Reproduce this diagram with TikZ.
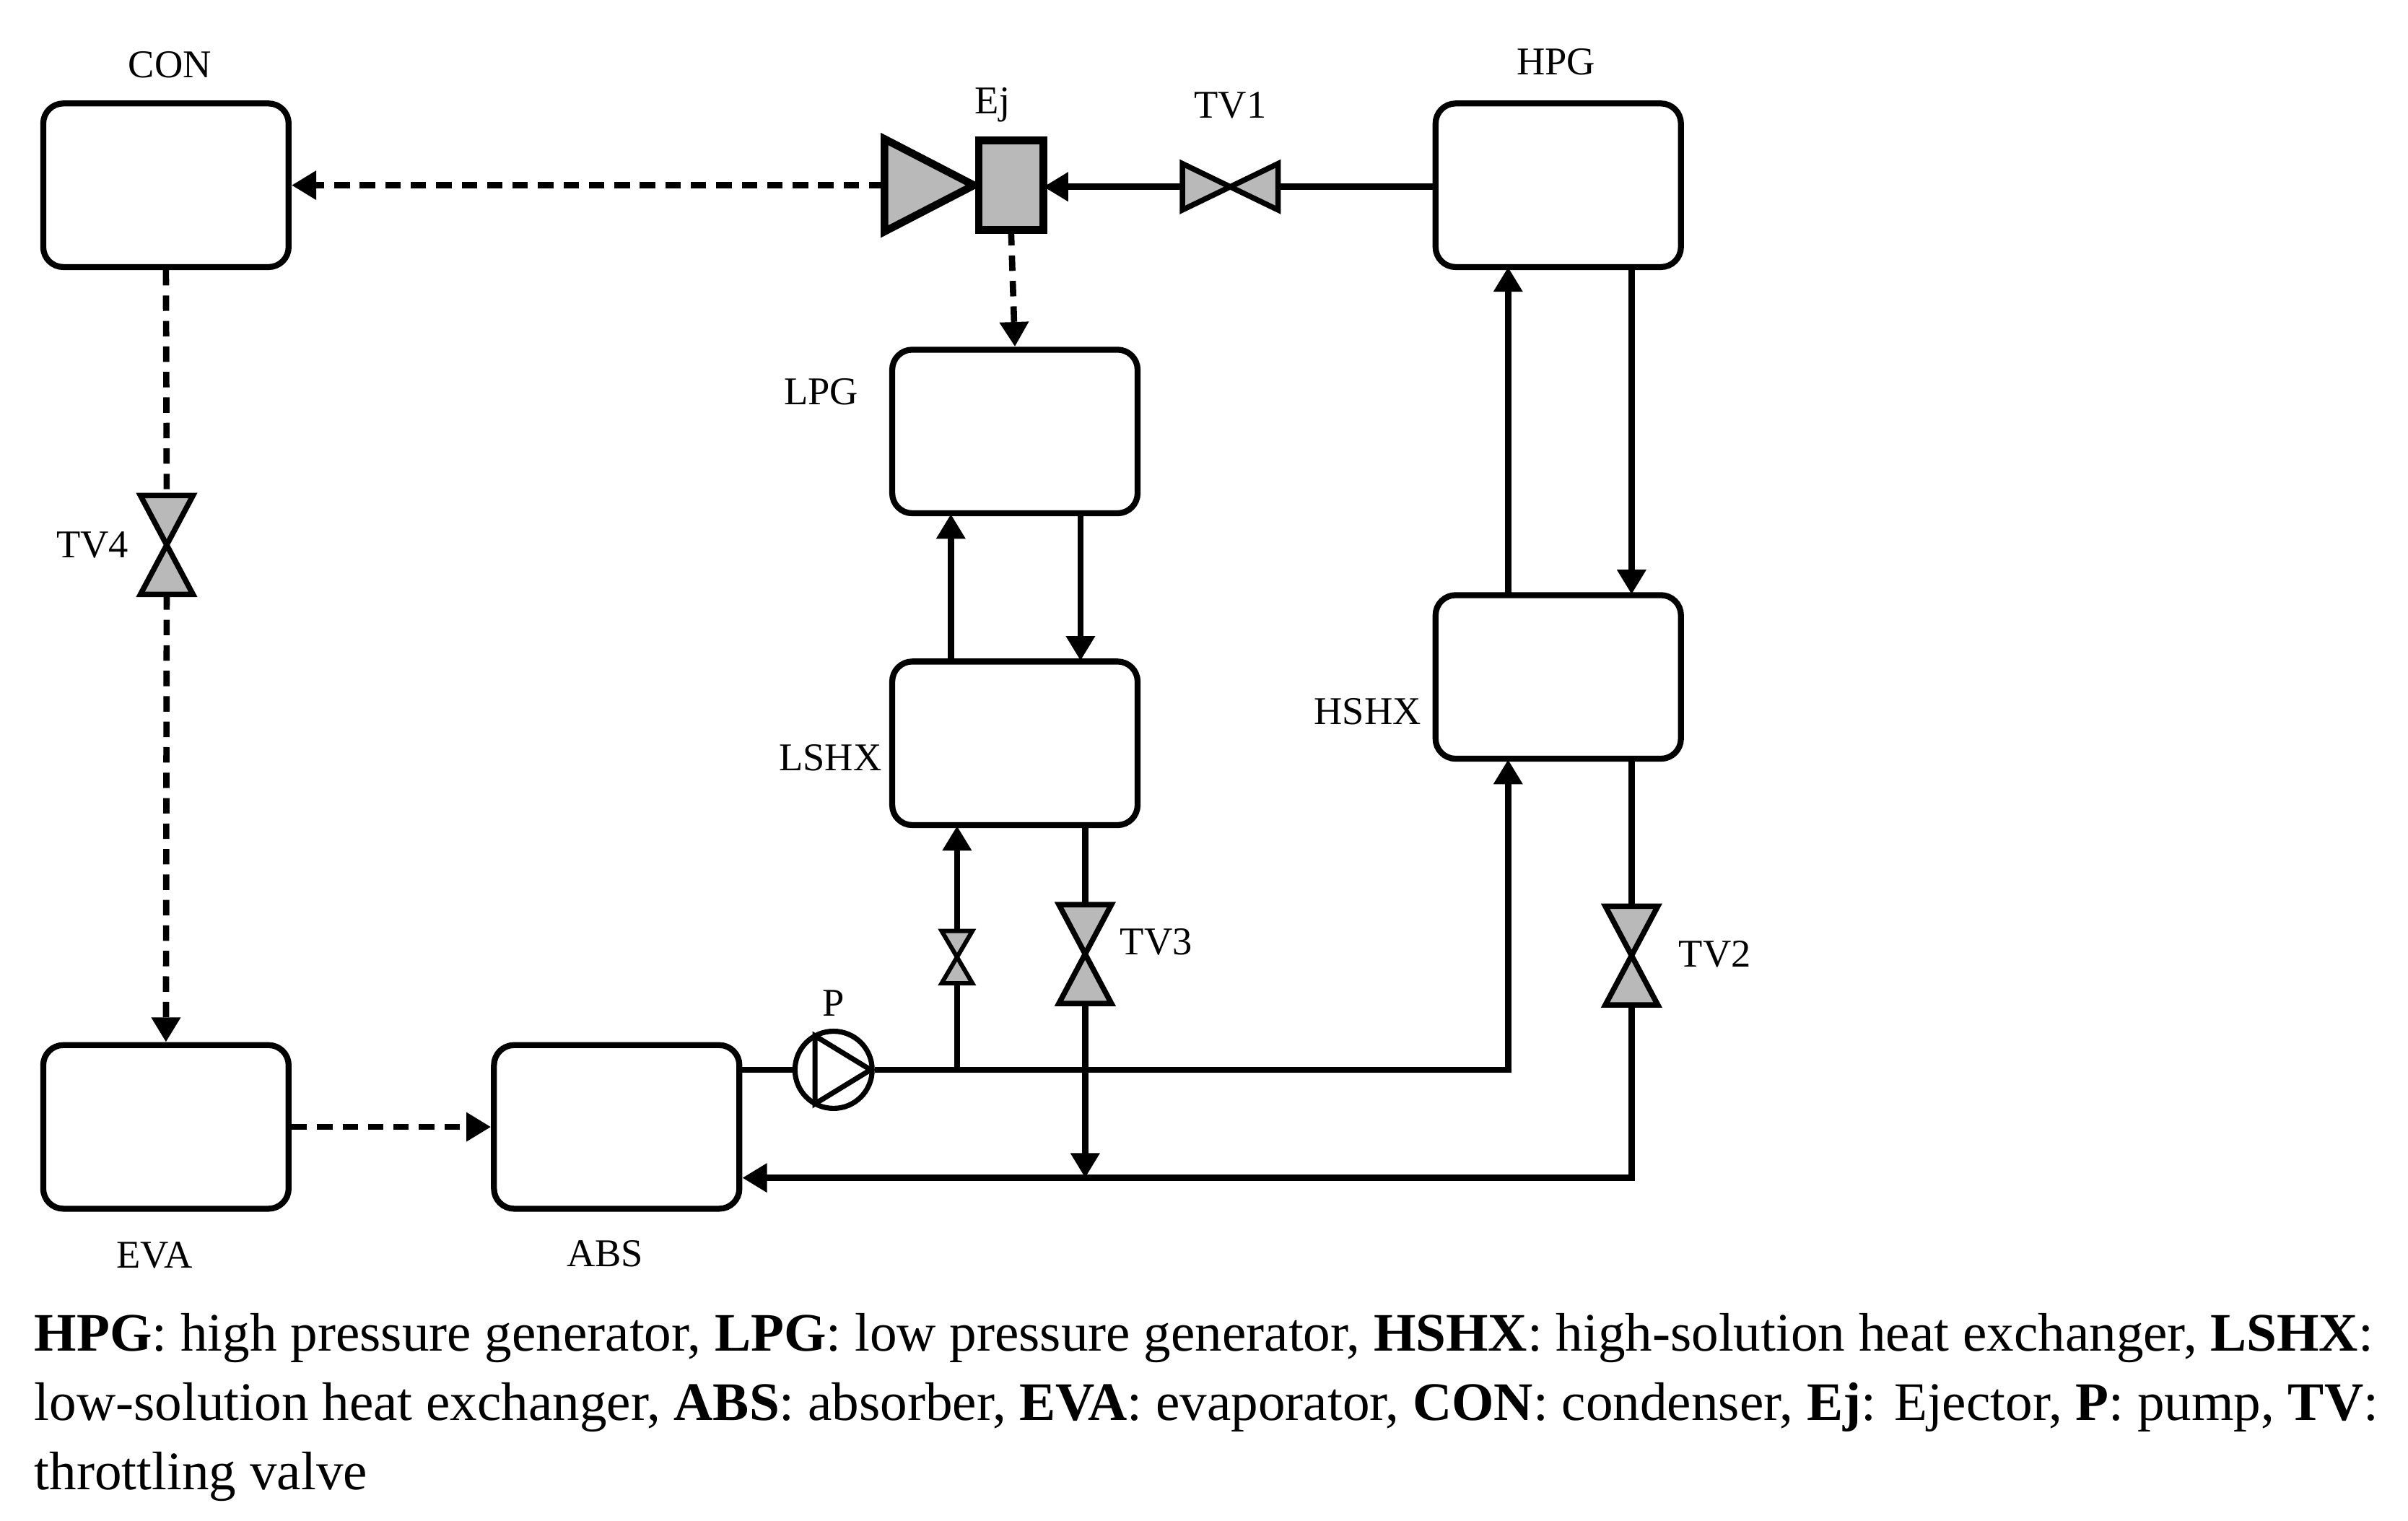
\documentclass[tikz,border=0pt]{standalone}
\usepackage{fontspec}
\setmainfont{Liberation Serif}
\usetikzlibrary{arrows.meta}
\begin{document}
\begin{tikzpicture}[x=0.02cm,y=-0.02cm,
  box/.style={draw,line width=2.2pt,rounded corners=0.26cm,minimum width=3.18cm,minimum height=2.12cm,inner sep=0pt},
  lab/.style={font=\fontsize{14.5}{16}\selectfont,inner sep=0pt},
  pipe/.style={line width=2.3pt},
  arr/.style={pipe,-{Triangle[length=0.32cm,width=0.36cm]}},
  dsh/.style={arr,dash pattern=on 0.2cm off 0.13cm},
  valve/.style={draw,line width=2pt,fill=gray!55,line join=miter},
  captxt/.style={font=\fontsize{20}{24}\selectfont,anchor=base west,inner sep=0pt}]
\useasboundingbox (0,0) rectangle (1560,985);
% boxes
\node[box] (CON) at (107.5,120) {};
\node[box] (EVA) at (107.5,730) {};
\node[box] (ABS) at (399.5,730) {};
\node[box] (LPG) at (657.5,279.5) {};
\node[box] (LSHX) at (657.5,481.5) {};
\node[box] (HPG) at (1009.5,120) {};
\node[box] (HSHX) at (1009.5,438.5) {};
% labels
\node[lab] at (110,42) {CON};
\node[lab] at (100,813) {EVA};
\node[lab] at (392,812) {ABS};
\node[lab] at (532,254) {LPG};
\node[lab] at (538,491) {LSHX};
\node[lab] at (1008,40) {HPG};
\node[lab] at (886,461) {HSHX};
\node[lab] at (643,68) {Ej};
\node[lab] at (797,68) {TV1};
\node[lab] at (60,353) {TV4};
\node[lab] at (749,610) {TV3};
\node[lab] at (1111,618) {TV2};
\node[lab] at (540,650) {P};
% ejector
\draw[line width=2.8pt,fill=gray!55,line join=miter] (573,90) -- (631,120) -- (573,150) -- cycle;
\draw[line width=2.8pt,fill=gray!55] (634,91) rectangle (676,149);
\coordinate (EjL) at (573,120);
\coordinate (EjR) at (676,121);
\coordinate (EjB) at (655,149);
% TV1
\coordinate (TV1) at (797,121);
\draw[valve] (766,106) -- (828,136) -- (828,106) -- (766,136) -- cycle;
\draw[pipe] (HPG.west |- TV1) -- (828,121);
\draw[arr] (766,121) -- (EjR);
\draw[dsh] (EjL) -- (CON.east);
\draw[dsh] (EjB) -- (LPG.north);
% TV4
\coordinate (TV4) at (108,353);
\draw[valve] (91,321) -- (125,321) -- (91,385) -- (125,385) -- cycle;
\draw[dsh,-] (CON.south) -- (108,321);
\draw[dsh] (108,385) -- (EVA.north);
\draw[dsh] (EVA.east) -- (ABS.west);
% LPG-LSHX
\draw[arr] (616,428) -- (616,333);
\draw[arr] (700,333) -- (700,428);
% HPG-HSHX
\draw[arr] (977,385) -- (977,173);
\draw[arr] (1057,173) -- (1057,385);
% pump
\node[draw,circle,line width=1.9pt,minimum size=1.0cm,inner sep=0pt] (P) at (540,693) {};
\draw[line width=1.9pt,line join=miter] (528,671) -- (564,693) -- (528,715) -- cycle;
\draw[pipe] (ABS.east |- P) -- (P.west);
\draw[arr] (P.east) -- (977,693) -- (977,492);
% small valve
\draw[pipe] (620,693) -- (620,638);
\draw[valve,line width=1.6pt] (610,603) -- (630,603) -- (610,637) -- (630,637) -- cycle;
\draw[arr] (620,603) -- (620,535);
% TV3
\draw[pipe] (703,535) -- (703,586);
\draw[valve] (686,586) -- (720,586) -- (686,650) -- (720,650) -- cycle;
\draw[arr] (703,650) -- (703,763);
% TV2
\draw[pipe] (1057,492) -- (1057,587);
\draw[valve] (1040,587) -- (1074,587) -- (1040,651) -- (1074,651) -- cycle;
\draw[arr] (1057,651) -- (1057,763) -- (ABS.east |- 0,763);
% caption
\node[captxt] at (22,875) {\textbf{HPG}: high pressure generator, \textbf{LPG}: low pressure generator, \textbf{HSHX}: high-solution heat exchanger, \textbf{LSHX}:};
\node[captxt] at (22,920) {low-solution heat exchanger, \textbf{ABS}: absorber, \textbf{EVA}: evaporator, \textbf{CON}: condenser, \textbf{Ej}: Ejector, \textbf{P}: pump, \textbf{TV}:};
\node[captxt] at (22,965) {throttling valve};
\end{tikzpicture}
\end{document}
